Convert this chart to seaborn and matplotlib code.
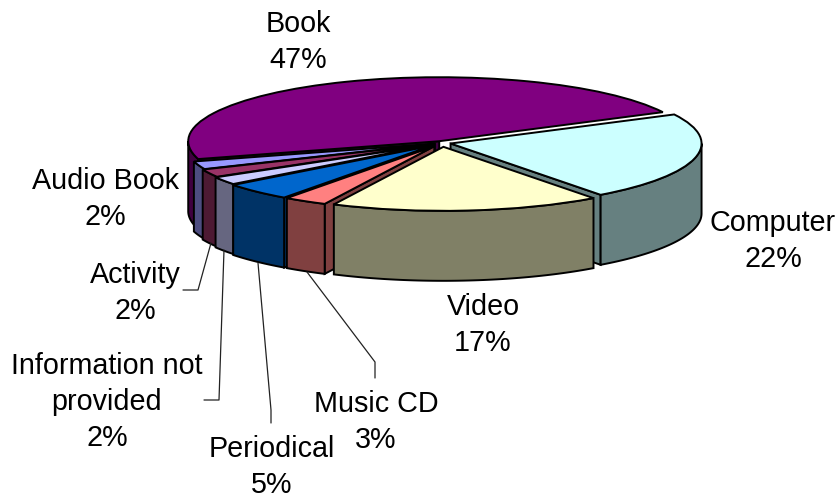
import matplotlib
matplotlib.use("Agg")
import matplotlib.pyplot as plt
import numpy as np
import seaborn as sns

# data, counter clockwise from the Book slice
categories = ['Book', 'Audio Book', 'Activity', 'Information not\nprovided',
              'Periodical', 'Music CD', 'Video', 'Computer']
shares = [47, 2, 2, 2, 4.51, 2.8, 17.39, 22.3]
top_colors = ['#800080', '#9999FF', '#993366', '#CCCCFF',
              '#0066CC', '#FF8080', '#FFFFCC', '#CCFFFF']
side_colors = ['#400040', '#4D4D80', '#4D1A33', '#666680',
               '#003366', '#804040', '#808066', '#668080']
explode = [0.03, 0.03, 0.04, 0.05, 0.06, 0.06, 0.06, 0.035]

# where the labels sit, in pixels
label_x = [298, 105, 135, 107, 272, 376, 483, 773]
label_y = [42, 199, 293, 402, 467, 422, 325, 241]

sns.set_theme(style='white')
plt.rcParams['font.family'] = ['Liberation Sans', 'DejaVu Sans']

W, H = 840, 499
cx, cy = 442, 143      # pie centre in pixels
rx, ry = 251, 64       # squashed pie radii in pixels
depth = 70 / ry

fig = plt.figure(figsize=(W / 100, H / 100), dpi=100)
ax = fig.add_axes([0, 0, 1, 1])
wedges, _ = ax.pie(shares, startangle=27, counterclock=True, explode=explode,
                   colors=top_colors, radius=1,
                   wedgeprops={'edgecolor': 'black', 'linewidth': 1.4})
ax.set_aspect('auto')
ax.set_xlim(-cx / rx, (W - cx) / rx)
ax.set_ylim((cy - H) / ry, cy / ry)
ax.axis('off')


def draw_sides(w, color, z):
    x0, y0 = w.center
    # radial face hanging from the edge that looks at the viewer
    edge = None
    if 180 <= w.theta2 < 270:
        edge = np.radians(w.theta2)
    elif 270 < w.theta1 < 360:
        edge = np.radians(w.theta1)
    if edge is not None:
        ex, ey = x0 + w.r * np.cos(edge), y0 + w.r * np.sin(edge)
        ax.fill([x0, ex, ex, x0], [y0, ey, ey - depth, y0 - depth], color=color,
                ec='black', lw=1.4, zorder=z)
    # outer wall, front half of the rim only
    a, b = max(w.theta1, 180), min(w.theta2, 360)
    if b > a:
        t = np.radians(np.linspace(a, b, 60))
        xs = x0 + w.r * np.cos(t)
        ys = y0 + w.r * np.sin(t)
        ax.fill(np.r_[xs, xs[::-1]], np.r_[ys, ys[::-1] - depth], color=color,
                ec='black', lw=1.4, zorder=z + 0.1)
    w.set_zorder(z + 0.2)


# back to front
for z, i in enumerate([0, 7, 1, 2, 3, 4, 5, 6]):
    draw_sides(wedges[i], side_colors[i], z + 1)

# overlay in pixel coordinates for the labels and leader lines
px = fig.add_axes([0, 0, 1, 1], facecolor='none')
px.set_xlim(0, W)
px.set_ylim(H, 0)
px.axis('off')

px.plot([211, 198, 183], [243, 290, 290], color='#222222', lw=0.9)
px.plot([224, 219, 204], [250, 400, 400], color='#222222', lw=0.9)
px.plot([258, 271, 271], [263, 410, 423], color='#222222', lw=0.9)
px.plot([307, 375, 375], [272, 362, 378], color='#222222', lw=0.9)

for name, share, x, y in zip(categories, shares, label_x, label_y):
    px.text(x, y, f'{name}\n{round(share)}%', ha='center', va='center', fontsize=20.7,
            linespacing=1.38, color='black')

fig.savefig('out.png', dpi=100)
